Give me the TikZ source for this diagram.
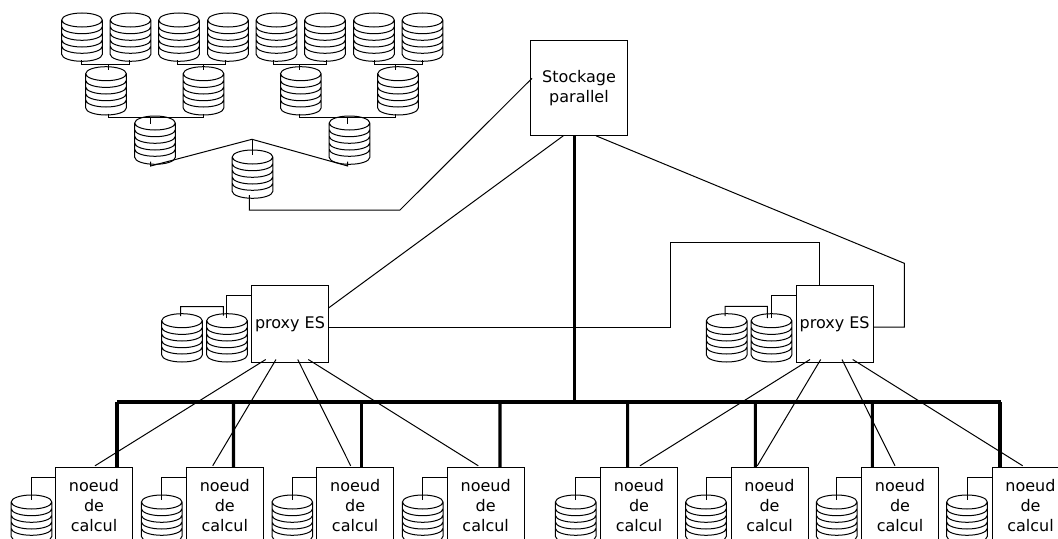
\documentclass[tikz,border=0pt]{standalone}
\usepackage{fontspec}
\setmainfont{DejaVu Sans}
\usetikzlibrary{calc}
\tikzset{
    wire/.style={line width=0.75pt},
    bus/.style={line width=2.3pt},
    box/.style={draw, line width=0.75pt, inner sep=0pt, outer sep=0pt, align=center,
        font=\fontsize{12}{15}\selectfont, minimum width=57.75pt, minimum height=57.75pt},
    disk/.style={inner sep=0pt, outer sep=0pt, minimum width=33pt, minimum height=37.5pt,
        path picture={
            \draw[wire, shift={(path picture bounding box.center)}]
                (0,-17) ellipse [x radius=20.3, y radius=7]
                (-20.3,-17) -- (-20.3,17.3) arc [start angle=180, end angle=0, x radius=20.3, y radius=7] -- (20.3,-17)
                (-20.3,-10.3) arc [start angle=180, end angle=0, x radius=20.3, y radius=7]
                (-20.3,-3.7) arc [start angle=180, end angle=0, x radius=20.3, y radius=7]
                (-20.3,3) arc [start angle=180, end angle=0, x radius=20.3, y radius=7]
                (-20.3,9.3) arc [start angle=180, end angle=0, x radius=20.3, y radius=7];
        }},
}

\begin{document}
\begin{tikzpicture}[x=0.75pt, y=-0.75pt]
    \clip (0,0) rectangle (1058,539);

    % Tree of disks, top row
    \node[disk] (dA) at (82,37) {};
    \node[disk] (dB) at (130.5,37) {};
    \node[disk] (dC) at (179,37) {};
    \node[disk] (dD) at (228,37) {};
    \node[disk] (dE) at (276.5,37) {};
    \node[disk] (dF) at (325,37) {};
    \node[disk] (dG) at (374,37) {};
    \node[disk] (dH) at (422.5,37) {};

    % Tree of disks, lower rows
    \node[disk] (dI) at (106,90.7) {};
    \node[disk] (dJ) at (203.5,90.7) {};
    \node[disk] (dK) at (300.8,90.7) {};
    \node[disk] (dL) at (398,90.7) {};
    \node[disk] (dM) at (155,140) {};
    \node[disk] (dN) at (349.5,140) {};
    \node[disk] (dO) at (252.5,174) {};

    % Wires between the top row and the second row
    \draw[wire] ($(dA.south)+(-0.7,-2)$) -- ++(0,4.3) -| ($(dB.south)+(-1.2,-2)$);
    \draw[wire] ($(dC.south)+(-1.7,-2)$) -- ++(0,4.3) -| ($(dD.south)+(-2.7,-2)$);
    \draw[wire] ($(dE.south)+(-3.2,-2)$) -- ++(0,4.3) -| ($(dF.south)+(1.7,-2)$);
    \draw[wire] ($(dG.south)+(0.3,-2)$) -- ++(0,4.3) -| ($(dH.south)+(-0.2,-2)$);
    \draw[wire] ($(dI.north)+(2,-1.5)$) -- ++(0,6);
    \draw[wire] ($(dJ.north)+(0.2,-1.5)$) -- ++(0,6);
    \draw[wire] ($(dK.north)+(-1.1,-1.5)$) -- ++(0,6);
    \draw[wire] ($(dL.north)+(-2.7,-1.5)$) -- ++(0,6);

    % Wires between the second row and the third row
    \draw[wire] ($(dI.south)+(2,-2)$) -- ++(0,3.6) -| ($(dJ.south)+(0.2,-2)$);
    \draw[wire] ($(dK.south)+(-1.1,-2)$) -- ++(0,3.6) -| ($(dL.south)+(-2.7,-2)$);
    \draw[wire] ($(dM.north)+(-4.3,3)$) -- ++(0,5.7);
    \draw[wire] ($(dN.north)+(-1.8,3)$) -- ++(0,5.7);

    % Wires down to the last disk
    \draw[wire] ($(dM.south)+(-4.3,-3.3)$) -- ++(0,4.3) -- (252,139.3) -- ($(dN.south)+(-1.8,1)$) -- ++(0,-4.3);
    \draw[wire] ($(dO.north)+(-0.5,-10)$) -- ++(0,16);

    % Storage and the two proxies
    \node[box, minimum width=72.75pt, minimum height=71.25pt] (stockage) at (579,88.3) {\raisebox{-1pt}{Stockage}\\\raisebox{-1pt}{parallel}};
    \node[box] (proxyA) at (290,324) {proxy ES};
    \node[box] (proxyB) at (834.6,324) {proxy ES};

    % Disks of the proxies
    \node[disk] (pA) at (182,337.7) {};
    \node[disk] (pB) at (227,337.7) {};
    \node[disk] (pC) at (726.7,337.7) {};
    \node[disk] (pD) at (771.5,337.7) {};
    \draw[wire] ($(pA.north)+(-1.3,3.3)$) |- (223.3,306.7) -- ($(pB.north)+(-3.7,3)$);
    \draw[wire] ($(proxyA.north west)+(0,10)$) -| ($(pB.north)+(-0.3,5.3)$);
    \draw[wire] ($(pC.north)+(-1.7,3.3)$) |- (767.3,306.3) -- ($(pD.north)+(-4.2,5.3)$);
    \draw[wire] ($(proxyB.north west)+(0,10)$) -| ($(pD.north)+(0.2,5.3)$);

    % Links to the storage
    \draw[wire] (dO.south) ++(-3.2,-4) |- (400,210) -- ($(stockage.west)+(1.5,-10)$);
    \draw[wire] ($(proxyA.east)+(0,-16)$) -- ($(stockage.south)+(-15.7,0)$);
    \draw[wire] (proxyA.east) ++(0,3) -| (670,242.7) -| ($(proxyB.north)+(-15.3,0)$);
    \draw[wire] (proxyB.east) ++(0,3) -| (904.3,263.3) -- ($(stockage.south)+(17,0)$);

    % Compute nodes
    \node[box] (noeudA) at (94,505.8) {noeud\\de\\calcul};
    \node[box] (noeudB) at (224.8,505.8) {noeud\\de\\calcul};
    \node[box] (noeudC) at (355.2,505.8) {noeud\\de\\calcul};
    \node[box] (noeudD) at (485.7,505.8) {noeud\\de\\calcul};
    \node[box] (noeudE) at (639,505.8) {noeud\\de\\calcul};
    \node[box] (noeudF) at (769.5,505.8) {noeud\\de\\calcul};
    \node[box] (noeudG) at (900,505.8) {noeud\\de\\calcul};
    \node[box] (noeudH) at (1030.5,505.8) {noeud\\de\\calcul};

    % Disks of the compute nodes
    \node[disk] (nA) at (31.5,519) {};
    \node[disk] (nB) at (161.7,519) {};
    \node[disk] (nC) at (292.3,519) {};
    \node[disk] (nD) at (422.7,519) {};
    \node[disk] (nE) at (575.7,519) {};
    \node[disk] (nF) at (706,519) {};
    \node[disk] (nG) at (836.7,519) {};
    \node[disk] (nH) at (967,519) {};
    \draw[wire] (noeudA.west) ++(0,-28.5) -| ($(nA.north)+(0,6)$);
    \draw[wire] (noeudB.west) ++(0,-28.5) -| ($(nB.north)+(0,6)$);
    \draw[wire] (noeudC.west) ++(0,-28.5) -| ($(nC.north)+(0,6)$);
    \draw[wire] (noeudD.west) ++(0,-28.5) -| ($(nD.north)+(0,6)$);
    \draw[wire] (noeudE.west) ++(0,-28.5) -| ($(nE.north)+(0,6)$);
    \draw[wire] (noeudF.west) ++(0,-28.5) -| ($(nF.north)+(0,6)$);
    \draw[wire] (noeudG.west) ++(0,-28.5) -| ($(nG.north)+(0,6)$);
    \draw[wire] (noeudH.west) ++(0,-28.5) -| ($(nH.north)+(0,6)$);

    % The thick bus
    \coordinate (busA) at (117,402);
    \coordinate (busB) at (1001,402);
    \draw[bus] (busA) -- (busB);
    \draw[bus] (stockage.south) ++(-4.7,0) -- ++(0,265.7);
    \draw[bus] (117,402) -- ($(noeudA.north)+(23,0)$);
    \draw[bus] (233.5,402) -- ($(noeudB.north)+(8.7,0)$);
    \draw[bus] (361.7,402) -- ($(noeudC.north)+(6.5,0)$);
    \draw[bus] (500,402) -- ($(noeudD.north)+(14.3,0)$);
    \draw[bus] (627.7,402) -- ($(noeudE.north)+(-11.3,0)$);
    \draw[bus] (755.3,402) -- ($(noeudF.north)+(-14.2,0)$);
    \draw[bus] (872.3,402) -- ($(noeudG.north)+(-27.7,0)$);
    \draw[bus] (1000,402) -- ($(noeudH.north)+(-30.5,0)$);

    % Thin lines from the proxies to the compute nodes
    \draw[wire] ($(proxyA.south)+(-24.3,-3)$) -- ($(noeudA.north)+(1,-1.5)$);
    \draw[wire] ($(proxyA.south)+(-14,-3)$) -- ($(noeudB.north)+(-12.1,-1.5)$);
    \draw[wire] ($(proxyA.south)+(7.7,-3)$) -- ($(noeudC.north)+(-4.5,-1.5)$);
    \draw[wire] ($(proxyA.south)+(18.3,-3)$) -- ($(noeudD.north)+(-7.4,-1.5)$);
    \draw[wire] ($(proxyB.south)+(-24.6,-3)$) -- ($(noeudE.north)+(1,-1.5)$);
    \draw[wire] ($(proxyB.south)+(-13.9,-3)$) -- ($(noeudF.north)+(-12.2,-1.5)$);
    \draw[wire] ($(proxyB.south)+(7.4,-3)$) -- ($(noeudG.north)+(-5,-1.5)$);
    \draw[wire] ($(proxyB.south)+(18.1,-3)$) -- ($(noeudH.north)+(-7.8,-1.5)$);
\end{tikzpicture}
\end{document}
